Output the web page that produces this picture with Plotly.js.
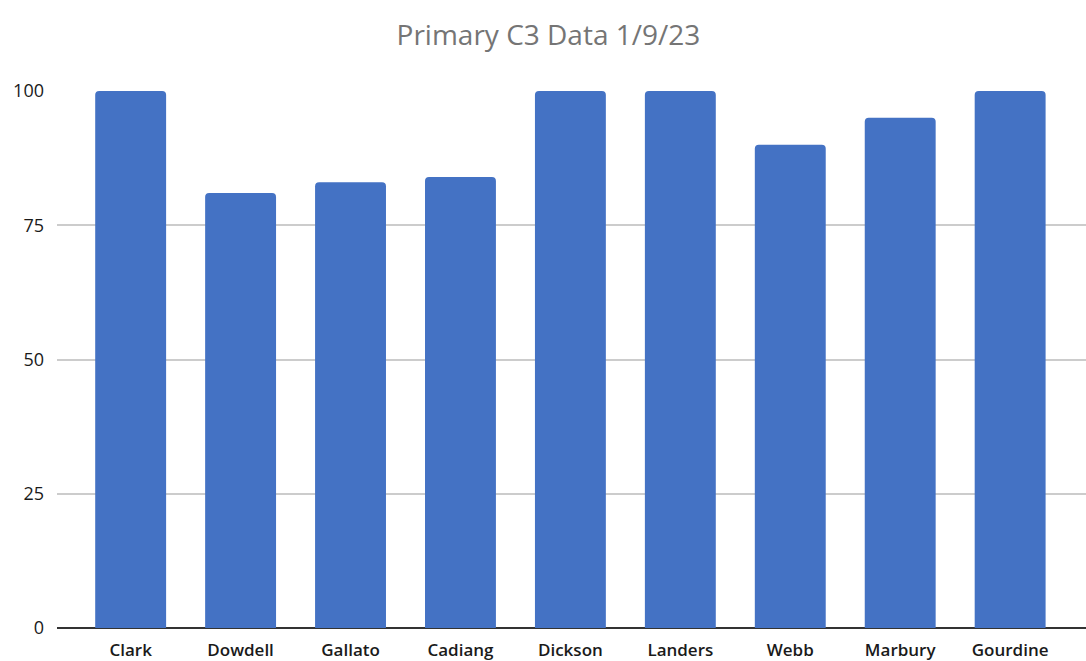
<!DOCTYPE html>
<html>
<head>
<meta charset="utf-8">
<script src="https://cdn.plot.ly/plotly-3.0.1.min.js"></script>
<style>html,body{margin:0;padding:0;background:#fff;}#chart{width:1086px;height:661px;}</style>
</head>
<body>
<div id="chart"></div>
<script>
const categories = ["Clark","Dowdell","Gallato","Cadiang","Dickson","Landers","Webb","Marbury","Gourdine"];
const values = [100, 81, 83, 84, 100, 100, 90, 95, 100];
const yTicks = [0, 25, 50, 75, 100];

const trace = {
  type: "bar",
  x: categories,
  y: values,
  marker: {color: "#4472C4", cornerradius: 4},
  hoverinfo: "x+y"
};

const layout = {
  width: 1086,
  height: 661,
  margin: {l: 57, r: 0, t: 91, b: 33},
  paper_bgcolor: "#ffffff",
  plot_bgcolor: "#ffffff",
  bargap: 0.355,
  showlegend: false,
  title: {
    text: "Primary C3 Data 1/9/23",
    font: {family: "Open Sans, Liberation Sans, sans-serif", size: 28, color: "#757575"},
    x: 0.505, xanchor: "center",
    y: 0.947, yanchor: "middle"
  },
  xaxis: {
    type: "category",
    range: [-0.67, 8.69],
    showgrid: false,
    showline: false,
    zeroline: false,
    ticks: "",
    ticklabelstandoff: 10,
    tickfont: {family: "Open Sans, Liberation Sans, sans-serif", size: 17, color: "#1a1a1a", weight: 600},
    fixedrange: true
  },
  yaxis: {
    range: [0, 100],
    tickvals: yTicks,
    ticktext: yTicks.map(String),
    showgrid: true,
    gridcolor: "#cccccc",
    gridwidth: 2,
    zeroline: true,
    zerolinecolor: "#333333",
    zerolinewidth: 2,
    showline: false,
    ticks: "",
    ticklabelstandoff: 12,
    tickfont: {family: "Open Sans, Liberation Sans, sans-serif", size: 18, color: "#1a1a1a"},
    fixedrange: true
  }
};

Plotly.newPlot("chart", [trace], layout, {displayModeBar: false, staticPlot: true});
</script>
</body>
</html>
